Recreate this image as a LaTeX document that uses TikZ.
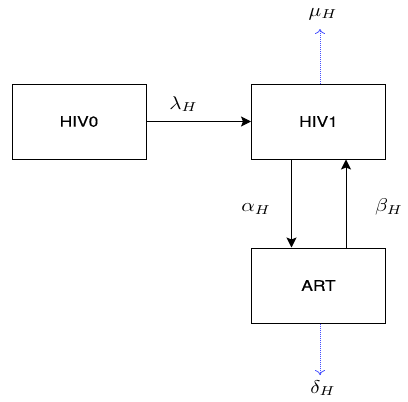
\documentclass[tikz,border=0pt]{standalone}
\usepackage{fontspec}
\setmainfont{TeX Gyre Heros}
\newfontfamily\boxfont[FakeStretch=1.2, FakeBold=0.2]{TeX Gyre Heros}
\usetikzlibrary{arrows.meta}
\definecolor{lossblue}{RGB}{70,80,255}

\begin{document}
\begin{tikzpicture}[x=1pt, y=-1pt,
    box/.style={draw, line width=1pt, minimum width=134pt, minimum height=75pt, font=\boxfont\fontsize{14.5}{17}\selectfont},
    flow/.style={-{Stealth[length=10pt,width=10pt,inset=2pt]}, line width=1pt},
    loss/.style={-{To[length=5pt,width=10pt]}, dash pattern=on 1pt off 1pt, lossblue, line width=0.8pt},
    lab/.style={xscale=2.1, yscale=1.85}
]
\useasboundingbox (0,0) rectangle (408,402);

\node[box] (hiv0) at (79,121.5) {HIV0};
\node[box] (hiv1) at (318.5,121.5) {HIV1};
\node[box] (art) at (318.5,285.5) {ART};

\coordinate (muend) at (320,29);
\coordinate (deltaend) at (320,375);
\node[lab] (mu) at (323,14) {$\mu_H$};
\node[lab] (delta) at (323,388) {$\delta_H$};

\draw[flow] (hiv0) -- (hiv1);
\node[lab] (lambda) at (183.5,104) {$\lambda_H$};
\draw[flow] ([xshift=-27pt]hiv1.south) -- ([xshift=-27pt]art.north);
\node[lab] (alpha) at (256,209) {$\alpha_H$};
\draw[flow] ([xshift=27.5pt]art.north) -- ([xshift=27.5pt]hiv1.south);
\node[lab] (beta) at (389,207) {$\beta_H$};

\draw[loss] ([xshift=1.5pt]hiv1.north) -- (muend);
\draw[loss] ([xshift=1.5pt]art.south) -- (deltaend);

\end{tikzpicture}
\end{document}
